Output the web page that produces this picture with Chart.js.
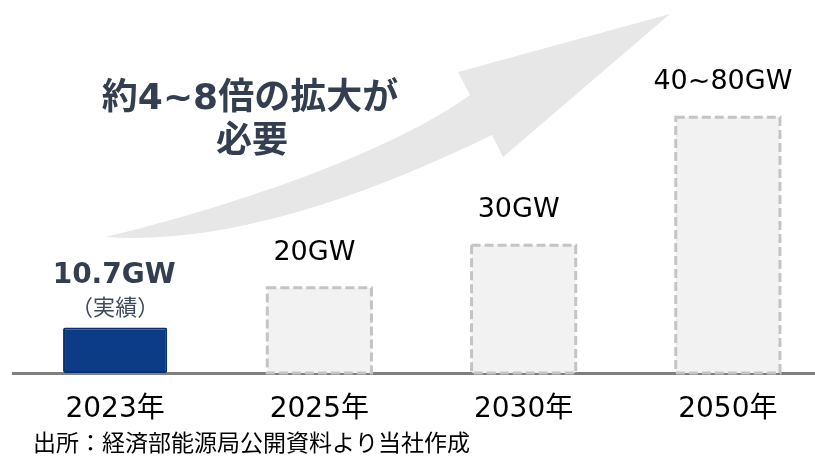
<!DOCTYPE html>
<html>
<head>
<meta charset="utf-8">
<script src="https://cdn.jsdelivr.net/npm/chart.js@4/dist/chart.umd.min.js"></script>
<style>
  html, body { margin: 0; padding: 0; background: #fff; overflow: hidden; }
  #wrap { width: 830px; height: 458px; }
</style>
</head>
<body>
<div id="wrap"><canvas id="capChart"></canvas></div>
<script>
// DATA
const categories = ["2023年", "2025年", "2030年", "2050年"];
const capacityGW = [10.7, 20, 30, 60];           // 2050 bar drawn at the middle of 40~80
const valueLabels = ["10.7GW", "20GW", "30GW", "40~80GW"];
const isActual = [true, false, false, false];
const titleLines = ["約4~8倍の拡大が", "必要"];
const sourceNote = "出所：経済部能源局公開資料より当社作成";

const FONT = '"DejaVu Sans", "Noto Sans CJK JP", sans-serif';
const NAVY = "#0D3C87";
const SLATE = "#333F50";

// grey curved arrow behind everything
const arrowPlugin = {
    id: "arrow",
    beforeDatasetsDraw(chart) {
        const c = chart.ctx;
        c.save();
        c.fillStyle = "#E7E7E7";
        c.beginPath();
        c.moveTo(105, 237);
        c.bezierCurveTo(200, 215, 380, 160, 470, 95);   // upper edge of shaft
        c.lineTo(458, 72);
        c.lineTo(670, 14);                              // tip
        c.lineTo(503, 157);
        c.lineTo(492, 135);
        c.quadraticCurveTo(260, 248, 105, 237);         // lower edge of shaft
        c.closePath();
        c.fill();

        // headline
        c.fillStyle = SLATE;
        c.textAlign = "center";
        c.textBaseline = "middle";
        c.font = "bold 36px " + FONT;
        c.fillText(titleLines[0], 250, 100);
        c.fillText(titleLines[1], 252, 143);
        c.restore();
    }
};

// dashed outlines + value labels
const labelPlugin = {
    id: "labels",
    afterDatasetsDraw(chart) {
        const c = chart.ctx;
        const meta = chart.getDatasetMeta(0);
        c.save();
        meta.data.forEach((bar, i) => {
            if (!isActual[i]) {
                c.setLineDash([9, 4]);
                c.lineWidth = 3;
                c.strokeStyle = "#C4C4C4";
                c.strokeRect(bar.x - bar.width / 2, bar.y, bar.width, bar.base - bar.y);
                c.setLineDash([]);
            }
            c.textAlign = "center";
            c.textBaseline = "middle";
            if (isActual[i]) {
                c.fillStyle = SLATE;
                c.font = "bold 28px " + FONT;
                c.fillText(valueLabels[i], bar.x - 1, bar.y - 52);
                c.fillStyle = "#3E4A5C";
                c.font = '22px "Noto Sans CJK JP", sans-serif';
                c.fillText("（実績）", bar.x, bar.y - 21);
            } else {
                c.fillStyle = "#000";
                c.font = "27px " + FONT;
                c.fillText(valueLabels[i], bar.x - 5, bar.y - 35);
            }
        });
        c.fillStyle = "#000";
        c.textAlign = "left";
        c.font = '23px "Noto Sans CJK JP", sans-serif';
        c.fillText(sourceNote, 33, 442);
        c.restore();
    }
};

new Chart(document.getElementById("capChart"), {
    type: "bar",
    data: {
        labels: categories,
        datasets: [{
            data: capacityGW,
            backgroundColor: isActual.map(a => a ? NAVY : "#F2F2F2"),
            borderColor: isActual.map(a => a ? "#082E6B" : "rgba(0,0,0,0)"),
            borderWidth: isActual.map(a => a ? 2 : 0),
            borderRadius: 2,
            borderSkipped: false,
            categoryPercentage: 1,
            barPercentage: 0.51
        }]
    },
    options: {
        responsive: true,
        maintainAspectRatio: false,
        animation: false,
        layout: { padding: { left: 13, right: 0, top: 32, bottom: 0 } },
        plugins: { legend: { display: false }, tooltip: { enabled: false } },
        scales: {
            x: {
                z: 1,
                grid: { display: false, drawTicks: false },
                border: { display: true, color: "#7F7F7F", width: 3 },
                ticks: { color: "#000", font: { size: 28, family: FONT }, padding: 20 },
                afterFit: s => { s.height = 85; }
            },
            y: { display: false, min: 0, max: 80 }
        }
    },
    plugins: [arrowPlugin, labelPlugin]
});
</script>
</body>
</html>
